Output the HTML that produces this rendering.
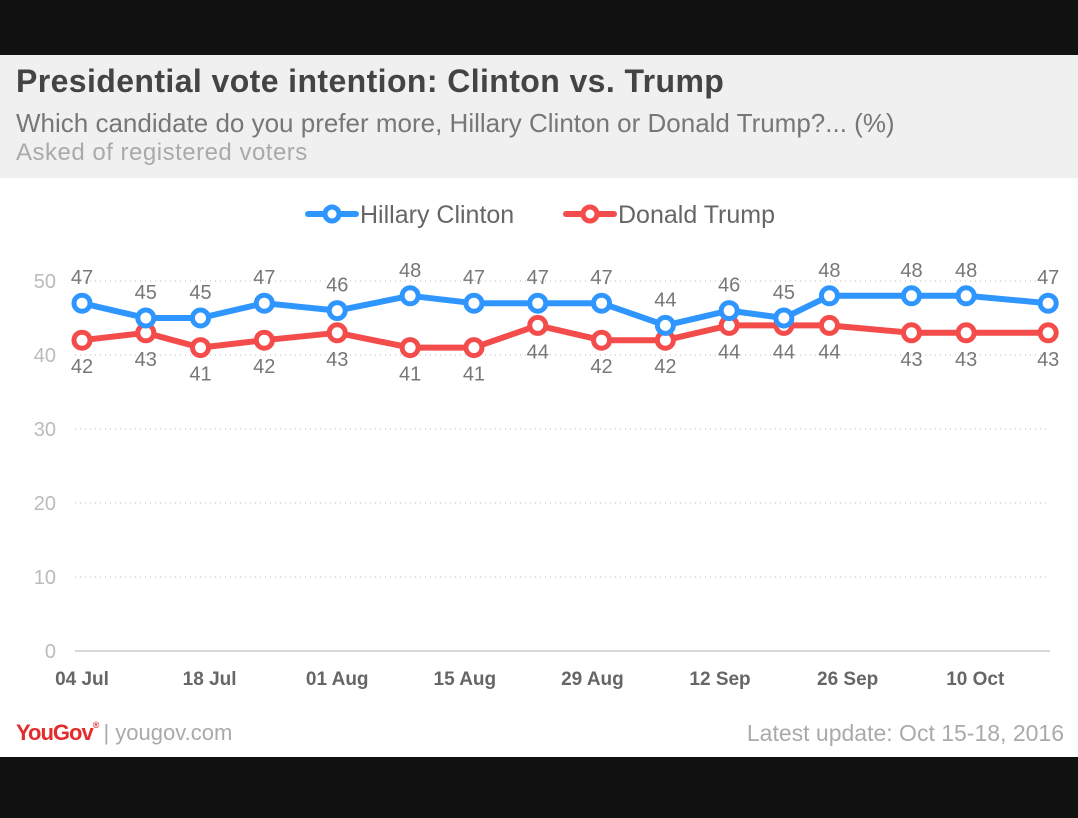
<!DOCTYPE html>
<html><head><meta charset="utf-8"><style>
body{margin:0;width:1078px;height:818px;overflow:hidden;background:#fff;font-family:"Liberation Sans",sans-serif}
.top{position:absolute;left:0;top:0;width:1078px;height:55px;background:#111}
.bot{position:absolute;left:0;top:757px;width:1078px;height:61px;background:#111}
.hdr{position:absolute;left:0;top:55px;width:1078px;height:123px;background:#f0f0f0}
</style></head><body>
<div class="top"></div>
<div class="hdr">
<div style="position:absolute;left:16px;top:8px;font-size:32px;font-weight:bold;color:#444;letter-spacing:0.4px">Presidential vote intention: Clinton vs. Trump</div>
<div style="position:absolute;left:16px;top:53px;font-size:26px;color:#777">Which candidate do you prefer more, Hillary Clinton or Donald Trump?... (%)</div>
<div style="position:absolute;left:16px;top:84px;font-size:24px;color:#aaa;letter-spacing:0.5px">Asked of registered voters</div>
</div>
<svg id="chart" width="1078" height="580" style="position:absolute;left:0;top:178px"></svg>
<div style="position:absolute;left:16px;top:720px;font-size:22px;font-weight:bold;color:#e52b2b;letter-spacing:-1px">YouGov<span style="font-size:9px;vertical-align:top">®</span> <span style="color:#aaa;font-weight:normal;letter-spacing:0">| yougov.com</span></div>
<div style="position:absolute;right:14px;top:720px;font-size:23px;color:#aaa">Latest update: Oct 15-18, 2016</div>
<div class="bot"></div>
<script>
const days=[0,7,13,20,28,36,43,50,57,64,71,77,82,91,97,106];
const clinton=[47,45,45,47,46,48,47,47,47,44,46,45,48,48,48,47];
const trump=[42,43,41,42,43,41,41,44,42,42,44,44,44,43,43,43];
const yTicks=[0,10,20,30,40,50];
const xTickDays=[0,14,28,42,56,70,84,98];
const xTickLabels=["04 Jul","18 Jul","01 Aug","15 Aug","29 Aug","12 Sep","26 Sep","10 Oct"];
const OFF=178;
const x=d=>82+d*9.115;
const y=v=>651-OFF-v*7.4;
const svg=document.getElementById('chart');
const NS='http://www.w3.org/2000/svg';
function mk(t,a){const e=document.createElementNS(NS,t);for(const k in a)e.setAttribute(k,a[k]);svg.appendChild(e);return e;}
yTicks.forEach(v=>{
 const l=mk('line',{x1:75,x2:1050,y1:y(v),y2:y(v),stroke:v===0?'#ccc':'#ddd','stroke-width':v===0?1.5:2,'stroke-dasharray':v===0?'':'1 4'});
 
 
 const t=mk('text',{x:56,y:y(v)+7,'text-anchor':'end','font-size':20,fill:'#bbb'});t.textContent=v;
 
 
});
xTickDays.forEach((d,i)=>{
 const t=mk('text',{x:x(d),y:507,'text-anchor':'middle','font-size':19,'font-weight':'bold',fill:'#666'});t.textContent=xTickLabels[i];
 
 
});
function series(vals,color,name,above){
 const p=mk('polyline',{points:vals.map((v,i)=>x(days[i])+','+y(v)).join(' '),fill:'none',stroke:color,'stroke-width':6,'stroke-linejoin':'round'});
 
 
 vals.forEach((v,i)=>{
  const c=mk('circle',{cx:x(days[i]),cy:y(v),r:8,fill:'#fff',stroke:color,'stroke-width':5});
  
  
  const t=mk('text',{x:x(days[i]),y:above?y(v)-19:y(v)+33,'text-anchor':'middle','font-size':20,fill:'#777'});t.textContent=v;
  
  
 });
}
series(trump,'#f44b4b','trump',false);
series(clinton,'#2f96ff','clinton',true);
[[308,'#2f96ff','Hillary Clinton','legend-clinton'],[566,'#f44b4b','Donald Trump','legend-trump']].forEach(([lx,c,lab,n])=>{
 const g=mk('g',{});
 
 
 const l=document.createElementNS(NS,'line');[['x1',lx],['x2',lx+48],['y1',36],['y2',36],['stroke',c],['stroke-width',6],['stroke-linecap','round']].forEach(a=>l.setAttribute(a[0],a[1]));g.appendChild(l);
 const ci=document.createElementNS(NS,'circle');[['cx',lx+24],['cy',36],['r',7],['fill','#fff'],['stroke',c],['stroke-width',5]].forEach(a=>ci.setAttribute(a[0],a[1]));g.appendChild(ci);
 const t=document.createElementNS(NS,'text');[['x',lx+52],['y',45],['font-size',25],['fill','#666']].forEach(a=>t.setAttribute(a[0],a[1]));t.textContent=lab;g.appendChild(t);
});
</script>
</body></html>
